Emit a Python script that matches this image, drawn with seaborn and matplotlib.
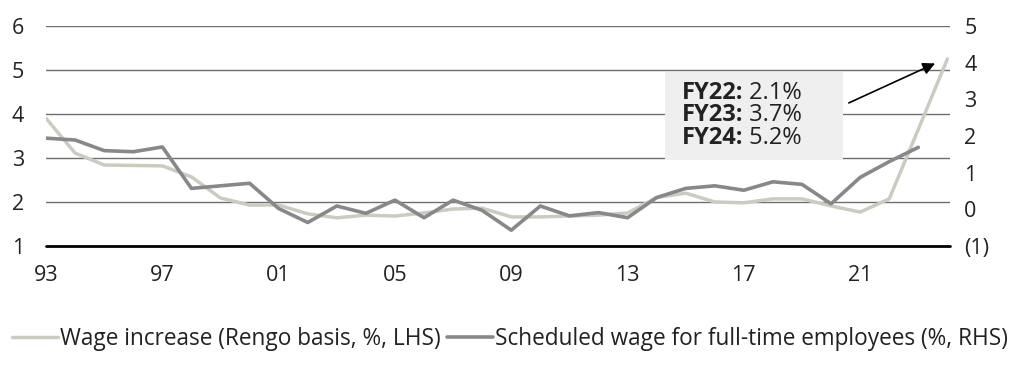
import matplotlib
matplotlib.use("Agg")
import matplotlib.pyplot as plt
import pandas as pd
import seaborn as sns

# Fiscal years (93 ... 24)
years = list(range(1993, 2025))

# Wage increase, Rengo basis (%, LHS)
rengo = [3.90, 3.11, 2.84, 2.83, 2.82, 2.57, 2.09, 1.93, 1.93, 1.73,
         1.64, 1.70, 1.68, 1.75, 1.84, 1.86, 1.66, 1.66, 1.68, 1.70,
         1.75, 2.10, 2.20, 2.00, 1.98, 2.07, 2.07, 1.91, 1.77, 2.07,
         3.65, 5.25]

# Scheduled wage for full-time employees (%, RHS), no FY24 value
sched_years = list(range(1993, 2024))
scheduled = [1.94, 1.89, 1.60, 1.57, 1.70, 0.57, 0.64, 0.71, 0.02, -0.36,
             0.09, -0.11, 0.25, -0.23, 0.25, -0.03, -0.57, 0.09, -0.18, -0.09,
             -0.23, 0.32, 0.57, 0.64, 0.52, 0.75, 0.68, 0.15, 0.87, 1.30,
             1.69]

left_ticks = [1, 2, 3, 4, 5, 6]
right_ticks = [-1, 0, 1, 2, 3, 4, 5]
right_labels = ["(1)", "0", "1", "2", "3", "4", "5"]
x_ticks = [1993, 1997, 2001, 2005, 2009, 2013, 2017, 2021]
x_labels = ["93", "97", "01", "05", "09", "13", "17", "21"]

box_lines = [("FY22:", " 2.1%"), ("FY23:", " 3.7%"), ("FY24:", " 5.2%")]

light = "#cbccc0"
dark = "#87888a"
text_col = "#222222"

sns.set_style("white")
plt.rcParams["font.family"] = ["Open Sans", "DejaVu Sans"]

fig = plt.figure(figsize=(10.24, 3.66), dpi=100)
ax = fig.add_axes([0.045, 0.328, 0.883, 0.601])
ax2 = ax.twinx()

df_l = pd.DataFrame({"year": years, "value": rengo})
df_r = pd.DataFrame({"year": sched_years, "value": scheduled})

sns.lineplot(data=df_l, x="year", y="value", color=light, lw=2.5, ax=ax,
             label="Wage increase (Rengo basis, %, LHS)", legend=False, zorder=3)
sns.lineplot(data=df_r, x="year", y="value", color=dark, lw=2.6, ax=ax2,
             label="Scheduled wage for full-time employees (%, RHS)",
             legend=False, zorder=3)

ax.set_xlim(1993, 2024.1)
ax.set_ylim(1, 6)
ax2.set_ylim(-1, 5)
ax.set_yticks(left_ticks)
ax.set_yticklabels([str(t) for t in left_ticks])
ax2.set_yticks(right_ticks)
ax2.set_yticklabels(right_labels)
ax.set_xticks(x_ticks)
ax.set_xticklabels(x_labels)
ax.set(xlabel=None, ylabel=None)
ax2.set(xlabel=None, ylabel=None)

for t in left_ticks[1:]:
    ax.axhline(t, color="#6f6f6f", lw=1.0, zorder=1)
ax.axhline(1, color="black", lw=2.0, zorder=2, clip_on=False)

for a in (ax, ax2):
    for s in a.spines.values():
        s.set_visible(False)
    a.tick_params(length=0, labelsize=15.5, colors=text_col)
ax.tick_params(axis="y", pad=16)
ax.tick_params(axis="x", pad=14)
ax2.tick_params(axis="y", pad=10)

ax2.patch.set_visible(False)

# Annotation box
box = plt.Rectangle((0.685, 0.389), 0.196, 0.40, transform=ax.transAxes,
                    facecolor="#efefef", edgecolor="none", zorder=2.5)
ax.add_patch(box)
for i, (b, n) in enumerate(box_lines):
    tb = ax.text(0.703, 0.668 - i * 0.102, b, transform=ax.transAxes,
                 fontsize=17, fontweight="bold", color=text_col,
                 va="baseline", zorder=4)
    ax.annotate(n, xy=(1, 0), xycoords=tb, va="bottom", ha="left",
                fontsize=17, color=text_col, zorder=4)

ax.annotate("", xy=(0.986, 0.835), xytext=(0.885, 0.645),
            xycoords="axes fraction",
            arrowprops=dict(arrowstyle="-|>", color="black", lw=1.2,
                            mutation_scale=18), zorder=5)

handles = ax.get_lines()[:1] + ax2.get_lines()[:1]
leg = fig.legend(handles=handles,
                 labels=[h.get_label() for h in handles],
                 loc="center", bbox_to_anchor=(0.498, 0.075), ncol=2,
                 frameon=False, handlelength=2.0,
                 handletextpad=0.1, columnspacing=0.3,
                 prop={"family": ["Open Sans"], "size": 16.3})
for t in leg.get_texts():
    t.set_color(text_col)

fig.savefig("out.png", dpi=100)
